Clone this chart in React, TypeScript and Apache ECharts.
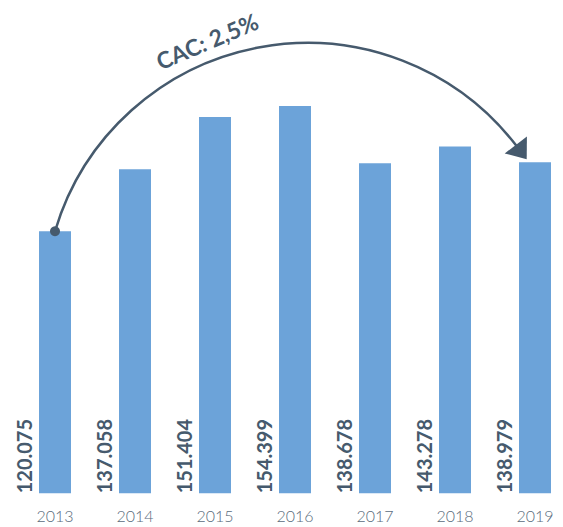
import React, { useEffect, useRef } from "react";
import * as echarts from "echarts";

const years = ["2013", "2014", "2015", "2016", "2017", "2018", "2019"];
const values = [120075, 137058, 151404, 154399, 138678, 143278, 138979];
const cacLabel = "CAC: 2,5%";

const BAR = "#6ca3d9";
const DARK = "#465a6d";
const AXIS_TXT = "#5a6b7c";

function fmt(v: number): string {
  return String(v).replace(/\B(?=(\d{3})+(?!\d))/g, ".");
}

function circumcircle(a: number[], b: number[], c: number[]) {
  const d = 2 * (a[0] * (b[1] - c[1]) + b[0] * (c[1] - a[1]) + c[0] * (a[1] - b[1]));
  const a2 = a[0] * a[0] + a[1] * a[1];
  const b2 = b[0] * b[0] + b[1] * b[1];
  const c2 = c[0] * c[0] + c[1] * c[1];
  const ux = (a2 * (b[1] - c[1]) + b2 * (c[1] - a[1]) + c2 * (a[1] - b[1])) / d;
  const uy = (a2 * (c[0] - b[0]) + b2 * (a[0] - c[0]) + c2 * (b[0] - a[0])) / d;
  const r = Math.hypot(a[0] - ux, a[1] - uy);
  return { cx: ux, cy: uy, r };
}

export default function App() {
  const ref = useRef<HTMLDivElement>(null);
  useEffect(() => {
    if (!ref.current) return;
    const chart = echarts.init(ref.current, null, { renderer: "svg" });
    chart.setOption({
      animation: false,
      backgroundColor: "#ffffff",
      grid: { left: 15, right: 0, top: 85.5, bottom: 33.7, containLabel: false },
      xAxis: {
        type: "category",
        data: years,
        axisLine: { show: false },
        axisTick: { show: false },
        axisLabel: {
          color: AXIS_TXT,
          fontSize: 16,
          fontWeight: 300,
          fontFamily: "Lato, sans-serif",
          margin: 14,
        },
      },
      yAxis: {
        type: "value",
        show: false,
        min: 48300,
        max: 160000,
        splitLine: { show: false },
      },
      series: [
        {
          type: "bar",
          data: values,
          barWidth: 32,
          itemStyle: { color: BAR },
          label: {
            show: true,
            position: "insideBottom",
            distance: 0,
            offset: [0, -31],
            rotate: 90,
            align: "left",
            verticalAlign: "middle",
            color: DARK,
            fontSize: 20,
            fontWeight: "bold",
            fontFamily: "Lato, sans-serif",
            formatter: (p: any) => fmt(p.value),
          },
        },
      ],
    });

    const p0 = chart.convertToPixel({ seriesIndex: 0 }, [0, values[0]]) as number[];
    const pN = chart.convertToPixel({ seriesIndex: 0 }, [values.length - 1, values[values.length - 1]]) as number[];
    const base = [pN[0] - 18, pN[1] - 15.7];
    const peak = [p0[0] + 245, 43];
    const c = circumcircle(p0, peak, base);
    const a0 = Math.atan2(p0[1] - c.cy, p0[0] - c.cx);
    const a1 = Math.atan2(base[1] - c.cy, base[0] - c.cx);
    const d = [-Math.sin(a1), Math.cos(a1)];
    const n = [-d[1], d[0]];
    const L = 16;
    const HW = 14;
    const tip = [base[0] + d[0] * L, base[1] + d[1] * L];
    const back = [base[0] - d[0] * 2, base[1] - d[1] * 2];
    const arrow = [
      tip,
      [back[0] + n[0] * HW, back[1] + n[1] * HW],
      [back[0] - n[0] * HW, back[1] - n[1] * HW],
    ];

    chart.setOption({
      graphic: [
        {
          type: "arc",
          z: 100,
          shape: { cx: c.cx, cy: c.cy, r: c.r, startAngle: a0, endAngle: a1, clockwise: true },
          style: { stroke: DARK, lineWidth: 2.5, fill: null },
        },
        {
          type: "circle",
          z: 101,
          shape: { cx: p0[0], cy: p0[1], r: 5 },
          style: { fill: DARK },
        },
        {
          type: "polygon",
          z: 101,
          shape: { points: arrow },
          style: { fill: DARK },
        },
        {
          type: "text",
          z: 101,
          x: 207,
          y: 41,
          rotation: (23 * Math.PI) / 180,
          style: {
            text: cacLabel,
            fill: DARK,
            fontSize: 23,
            fontWeight: "bold",
            fontFamily: "Lato, sans-serif",
            align: "center",
            verticalAlign: "middle",
          },
        },
      ],
    });

    return () => chart.dispose();
  }, []);
  return (
    <div style={{ position: "fixed", left: 0, top: 0, width: 563, height: 527, overflow: "hidden", background: "#fff" }}>
      <div ref={ref} style={{ width: 575, height: 527 }} />
    </div>
  );
}
